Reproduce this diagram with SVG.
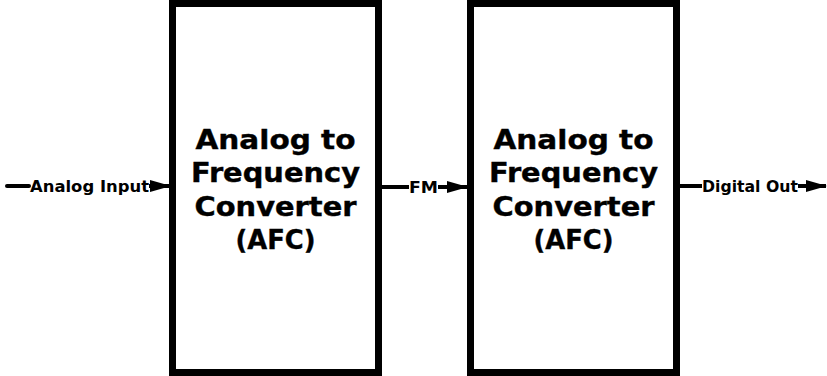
<svg xmlns="http://www.w3.org/2000/svg" width="827" height="376" viewBox="0 0 827 376">
  <style>
    .block { fill: #ffffff; stroke: #000000; stroke-width: 7; }
    .title { font-family: "DejaVu Sans", Verdana, sans-serif; font-weight: bold; font-size: 27px; fill: #000000; text-anchor: middle; stroke: #000000; stroke-width: 0.4; }
    .wire { fill: none; stroke: #000000; stroke-width: 4; }
    .label { font-family: "DejaVu Sans", Verdana, sans-serif; font-weight: bold; font-size: 15px; fill: #000000; }
  </style>
  <defs>
    <marker id="arrow" markerUnits="userSpaceOnUse" markerWidth="22" markerHeight="14" refX="20" refY="7" orient="auto">
      <path d="M0 1 L21 7 L0 13 Z" fill="#000000"/>
    </marker>
  </defs>
  <rect width="827" height="376" fill="#ffffff"/>

  <g id="afc1">
    <rect class="block" x="172.5" y="3.5" width="206" height="369"/>
    <text class="title" x="275.5" y="149" textLength="160" lengthAdjust="spacingAndGlyphs">Analog to</text>
    <text class="title" x="275.5" y="182" textLength="169" lengthAdjust="spacingAndGlyphs">Frequency</text>
    <text class="title" x="275.5" y="216" textLength="162" lengthAdjust="spacingAndGlyphs">Converter</text>
    <text class="title" x="275.5" y="249" textLength="80" lengthAdjust="spacingAndGlyphs">(AFC)</text>
  </g>

  <g id="afc2">
    <rect class="block" x="470.5" y="3.5" width="206" height="369"/>
    <text class="title" x="573.5" y="149" textLength="160" lengthAdjust="spacingAndGlyphs">Analog to</text>
    <text class="title" x="573.5" y="182" textLength="169" lengthAdjust="spacingAndGlyphs">Frequency</text>
    <text class="title" x="573.5" y="216" textLength="162" lengthAdjust="spacingAndGlyphs">Converter</text>
    <text class="title" x="573.5" y="249" textLength="80" lengthAdjust="spacingAndGlyphs">(AFC)</text>
  </g>

  <g id="connectors">
    <path class="wire" d="M7 186 H29" stroke-width="5" stroke-linecap="round"/>
    <path class="wire" d="M149 186 H170" marker-end="url(#arrow)"/>
    <text class="label" x="30" y="191.5" textLength="119" lengthAdjust="spacingAndGlyphs">Analog Input</text>

    <path class="wire" d="M382 187 H409"/>
    <path class="wire" d="M438 187 H467" marker-end="url(#arrow)"/>
    <text class="label" x="409" y="192.5" textLength="29" lengthAdjust="spacingAndGlyphs">FM</text>

    <path class="wire" d="M680 186 H702"/>
    <path class="wire" d="M798 186 H826" marker-end="url(#arrow)"/>
    <text class="label" x="702" y="191.5" textLength="96" lengthAdjust="spacingAndGlyphs">Digital Out</text>
  </g>
</svg>
